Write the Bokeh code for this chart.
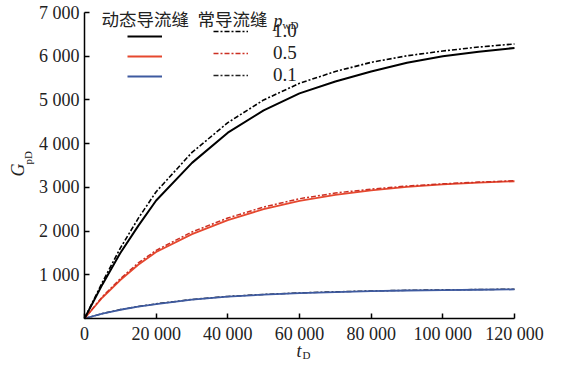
import math
from bokeh.plotting import figure
from bokeh.models import Label, FixedTicker, Range1d, Legend, LegendItem
from bokeh.embed import file_html
from bokeh.resources import INLINE

# dimensionless time
t_D = [0, 5000, 10000, 15000, 20000, 30000, 40000, 50000, 60000,
       70000, 80000, 90000, 100000, 110000, 120000]

# G_pD, dynamic fracture (solid) and constant fracture (dash-dot)
dyn_10 = [0, 780, 1500, 2120, 2700, 3560, 4250, 4760, 5150, 5420, 5650, 5850, 6000, 6100, 6190]
con_10 = [0, 830, 1610, 2290, 2900, 3800, 4480, 5000, 5380, 5650, 5860, 6010, 6120, 6210, 6280]
dyn_05 = [0, 480, 880, 1230, 1520, 1930, 2250, 2500, 2690, 2830, 2930, 3010, 3070, 3110, 3140]
con_05 = [0, 500, 910, 1270, 1560, 1980, 2300, 2550, 2740, 2870, 2960, 3030, 3080, 3120, 3150]
dyn_01 = [0, 110, 200, 270, 330, 430, 500, 545, 580, 605, 625, 640, 650, 658, 665]
con_01 = [0, 112, 204, 275, 336, 436, 506, 551, 586, 611, 630, 645, 655, 663, 670]

pwd_labels = ["1.0", "0.5", "0.1"]
header_dyn = "动态导流缝"
header_con = "常导流缝"

x_ticks = [0, 20000, 40000, 60000, 80000, 100000, 120000]
x_tick_labels = ["0", "20 000", "40 000", "60 000", "80 000", "100 000", "120 000"]
y_ticks = [1000, 2000, 3000, 4000, 5000, 6000, 7000]
y_tick_labels = ["1 000", "2 000", "3 000", "4 000", "5 000", "6 000", "7 000"]

SERIF = "'Liberation Serif', 'Times New Roman', serif"
CJK = "'Noto Sans CJK SC'"

W, H = 545, 362
# plot area in canvas pixels: x0 -> px 84, x_max -> px 514; y0 -> px 318, y_max -> px 12
X0_PX, X1_PX, Y0_PX, Y1_PX = 84, 514, 318, 12
XMAX, YMAX = 120000, 7000
xs = XMAX / (X1_PX - X0_PX)
ys = YMAX / (Y0_PX - Y1_PX)

p = figure(width=W, height=H, output_backend="svg", toolbar_location=None,
           x_range=Range1d(-X0_PX * xs, (W - X0_PX) * xs),
           y_range=Range1d(-(H - Y0_PX) * ys, YMAX + Y1_PX * ys),
           min_border_left=0, min_border_right=0, min_border_top=0,
           min_border_bottom=0)
p.outline_line_color = None
p.grid.visible = False
p.background_fill_color = "white"
p.border_fill_color = "white"

p.xaxis.fixed_location = 0
p.yaxis.fixed_location = 0
p.xaxis.bounds = (0, XMAX)
p.yaxis.bounds = (0, YMAX)

for ax, ticks, labels in ((p.xaxis, x_ticks, x_tick_labels), (p.yaxis, y_ticks, y_tick_labels)):
    ax.ticker = FixedTicker(ticks=ticks)
    ax.major_label_overrides = {k: v for k, v in zip(ticks, labels)}
    ax.minor_tick_line_color = None
    ax.major_tick_in = 5
    ax.major_tick_out = 0
    ax.major_tick_line_width = 1.5
    ax.axis_line_width = 1.5
    ax.axis_line_color = "black"
    ax.major_tick_line_color = "black"
    ax.major_label_text_font = SERIF
    ax.major_label_text_font_size = "18px"
    ax.major_label_text_color = "#222222"
    ax.major_label_standoff = 5

DASH = "5 2 2 2"
red = "#e6482f"
red_d = "#cc2f22"
blue = "#3e5aa0"

c01 = p.line(t_D, con_01, line_color="#222222", line_width=1.5, line_dash=DASH)
d01 = p.line(t_D, dyn_01, line_color=blue, line_width=1.8)
d05 = p.line(t_D, dyn_05, line_color=red, line_width=1.8)
c05 = p.line(t_D, con_05, line_color=red_d, line_width=1.5, line_dash=DASH)
d10 = p.line(t_D, dyn_10, line_color="black", line_width=2)
c10 = p.line(t_D, con_10, line_color="black", line_width=1.6, line_dash=DASH)

leg_dyn = Legend(items=[LegendItem(label=" ", renderers=[r]) for r in (d10, d05, d01)],
                 location=(127, H - 86))
leg_con = Legend(items=[LegendItem(label=lab, renderers=[r]) for lab, r in zip(pwd_labels, (c10, c05, c01))],
                 location=(213, H - 86))
for lg in (leg_dyn, leg_con):
    lg.padding = 0
    lg.margin = 0
    lg.spacing = 0
    lg.glyph_width = 35
    lg.glyph_height = 20
    lg.label_height = 20
    lg.label_standoff = 25
    lg.border_line_alpha = 0
    lg.background_fill_alpha = 0
    lg.label_text_font = SERIF
    lg.label_text_font_size = "19px"
    lg.label_text_color = "#222222"
    p.add_layout(lg)

def lab(text, x, y, font=SERIF, size="17px", style="normal", angle=0, align="left", baseline="alphabetic"):
    # x, y: canvas pixels from the top-left corner
    p.add_layout(Label(x=x, y=H - y, x_units="screen", y_units="screen", text=text,
                       text_font=font, text_font_size=size, text_font_style=style,
                       angle=angle, text_align=align, text_baseline=baseline,
                       text_color="#222222"))

lab(header_dyn, 101, 17.5, font=CJK, size="17.5px", baseline="middle")
lab(header_con, 197, 17.5, font=CJK, size="17.5px", baseline="middle")
lab("p", 273, 20, size="18px", style="italic")
lab("wD", 282, 24, size="11px")

# axis titles
lab("G", 17, 176, size="18px", style="italic", angle=math.pi / 2)
lab("pD", 27, 164, size="11px", angle=math.pi / 2)
lab("t", 296, 350, size="18px", style="italic")
lab("D", 302, 354, size="11px")

open("out.html", "w").write(file_html(p, INLINE))
